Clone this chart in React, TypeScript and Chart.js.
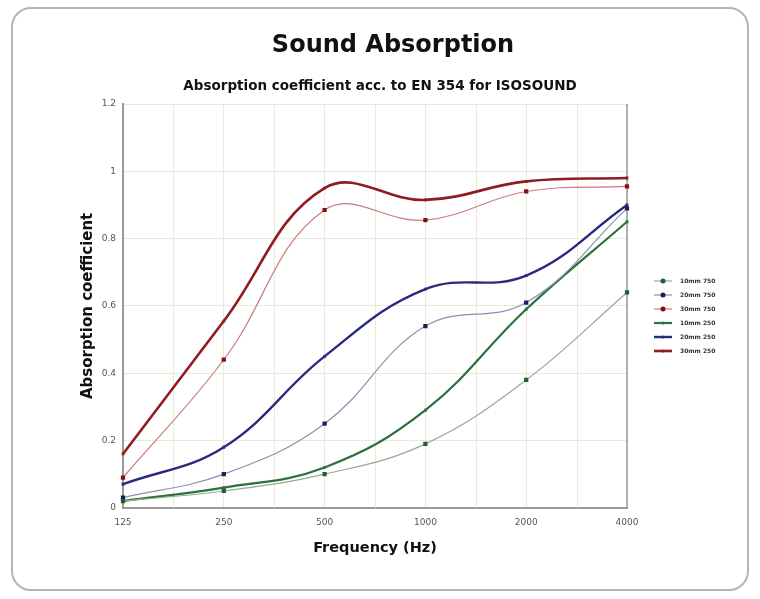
import React, { useEffect, useRef } from 'react';
import { Chart, registerables } from 'chart.js';

Chart.register(...registerables);

const frequencies = ['125', '250', '500', '1000', '2000', '4000'];
const seriesLabels = ['10mm 750', '20mm 750', '30mm 750', '10mm 250', '20mm 250', '30mm 250'];
const green750 = [0.02, 0.05, 0.1, 0.19, 0.38, 0.64];
const blue750 = [0.03, 0.1, 0.25, 0.54, 0.61, 0.89];
const red750 = [0.09, 0.44, 0.885, 0.855, 0.94, 0.955];
const green250 = [0.02, 0.06, 0.12, 0.29, 0.59, 0.85];
const blue250 = [0.07, 0.18, 0.45, 0.65, 0.69, 0.9];
const red250 = [0.16, 0.555, 0.95, 0.915, 0.97, 0.98];
const yMin = 0;
const yMax = 1.2;
const yStep = 0.2;
const titleText = 'Sound Absorption';
const subtitleText = 'Absorption coefficient acc. to EN 354 for ISOSOUND';

const FONT = '"DejaVu Sans", sans-serif';
const GRID = '#ebead6';
const FRAME = '#9a9a9a';

const lineStyles = [
  { line: '#8fae92', point: '#1f5e33', width: 1.2, r: 3 },
  { line: '#8f8fb0', point: '#1c1c5e', width: 1.2, r: 3 },
  { line: '#cc7a7a', point: '#850f16', width: 1.2, r: 3 },
  { line: '#2f6f40', point: '#2f6f40', width: 2.2, r: 2 },
  { line: '#2a2a80', point: '#2a2a80', width: 2.4, r: 2 },
  { line: '#8e1c20', point: '#8e1c20', width: 2.6, r: 2 },
];

const extrasPlugin = {
  id: 'extras',
  beforeDatasetsDraw(chart: any) {
    const { ctx, chartArea, scales } = chart;
    const xs = scales.x;
    ctx.save();
    ctx.strokeStyle = GRID;
    ctx.lineWidth = 1;
    for (let i = 0; i < frequencies.length - 1; i++) {
      const px = (xs.getPixelForTick(i) + xs.getPixelForTick(i + 1)) / 2;
      ctx.beginPath();
      ctx.moveTo(Math.round(px) + 0.5, chartArea.top);
      ctx.lineTo(Math.round(px) + 0.5, chartArea.bottom);
      ctx.stroke();
    }
    ctx.strokeStyle = FRAME;
    ctx.lineWidth = 1.5;
    ctx.beginPath();
    ctx.moveTo(chartArea.right, chartArea.top);
    ctx.lineTo(chartArea.right, chartArea.bottom);
    ctx.stroke();
    ctx.restore();
  },
  afterDraw(chart: any) {
    const ctx = chart.ctx;
    ctx.save();
    ctx.fillStyle = '#111';
    ctx.textAlign = 'center';
    ctx.textBaseline = 'middle';
    ctx.font = `bold 24px ${FONT}`;
    ctx.fillText(titleText, 393, 46);
    ctx.font = `bold 13.5px ${FONT}`;
    ctx.fillText(subtitleText, 380, 86);
    ctx.restore();

    const x0 = 654;
    const y0 = 281;
    const dy = 14;
    chart.data.datasets.forEach((ds: any, i: number) => {
      const st = lineStyles[i];
      const y = y0 + i * dy;
      ctx.save();
      ctx.strokeStyle = st.line;
      ctx.lineWidth = st.width;
      ctx.beginPath();
      ctx.moveTo(x0, y);
      ctx.lineTo(x0 + 18, y);
      ctx.stroke();
      ctx.fillStyle = st.point;
      const r = i < 3 ? 2.5 : 1.5;
      ctx.beginPath();
      ctx.arc(x0 + 9, y, r, 0, Math.PI * 2);
      ctx.fill();
      ctx.fillStyle = '#333';
      ctx.font = `bold 6px ${FONT}`;
      ctx.textBaseline = 'middle';
      ctx.textAlign = 'left';
      ctx.fillText(ds.label, x0 + 26, y);
      ctx.restore();
    });
  },
};

export default function App() {
  const canvasRef = useRef<HTMLCanvasElement | null>(null);

  useEffect(() => {
    if (!canvasRef.current) return;
    const seriesData = [green750, blue750, red750, green250, blue250, red250];
    const chart = new Chart(canvasRef.current, {
      type: 'line',
      data: {
        labels: frequencies,
        datasets: seriesData.map((d, i) => ({
          label: seriesLabels[i],
          data: d,
          borderColor: lineStyles[i].line,
          backgroundColor: lineStyles[i].point,
          borderWidth: lineStyles[i].width,
          pointStyle: 'rect',
          pointRadius: lineStyles[i].r,
          pointBackgroundColor: lineStyles[i].point,
          pointBorderColor: lineStyles[i].point,
          pointBorderWidth: 0,
          tension: 0.4,
          fill: false,
        })),
      },
      options: {
        animation: false,
        responsive: true,
        maintainAspectRatio: false,
        layout: { padding: { top: 104, left: 70, right: 133, bottom: 38 } },
        plugins: {
          legend: { display: false },
          tooltip: { enabled: false },
          title: { display: false },
          subtitle: { display: false },
        },
        scales: {
          x: {
            offset: false,
            grid: { color: GRID, drawTicks: false },
            border: { color: FRAME, width: 2 },
            ticks: { color: '#555', font: { family: FONT, size: 9 }, padding: 9, maxRotation: 0 },
            title: {
              display: true,
              text: 'Frequency (Hz)',
              color: '#111',
              font: { family: FONT, size: 14.5, weight: 'bold' },
              padding: { top: 3, bottom: 4 },
            },
          },
          y: {
            min: yMin,
            max: yMax,
            grid: { color: GRID, drawTicks: false },
            border: { color: FRAME, width: 2 },
            ticks: {
              stepSize: yStep,
              color: '#555',
              font: { family: FONT, size: 9 },
              padding: 7,
              callback: (v: any) => String(Math.round(Number(v) * 10) / 10),
            },
            title: {
              display: true,
              text: 'Absorption coefficient',
              color: '#111',
              font: { family: FONT, size: 15, weight: 'bold' },
              padding: { top: 9, bottom: 4 },
            },
            afterFit: (scale: any) => {
              scale.width = 53;
            },
          },
        },
      },
      plugins: [extrasPlugin],
    });
    return () => chart.destroy();
  }, []);

  return (
    <div style={{ position: 'absolute', left: 0, top: 0, width: 760, height: 599, background: '#fff' }}>
      <div
        style={{
          position: 'absolute',
          left: 11,
          top: 7,
          width: 738,
          height: 584,
          border: '2px solid #b4b4b4',
          borderRadius: 20,
          boxSizing: 'border-box',
        }}
      />
      <div style={{ position: 'absolute', left: 0, top: 0, width: 760, height: 599 }}>
        <canvas ref={canvasRef} />
      </div>
    </div>
  );
}
